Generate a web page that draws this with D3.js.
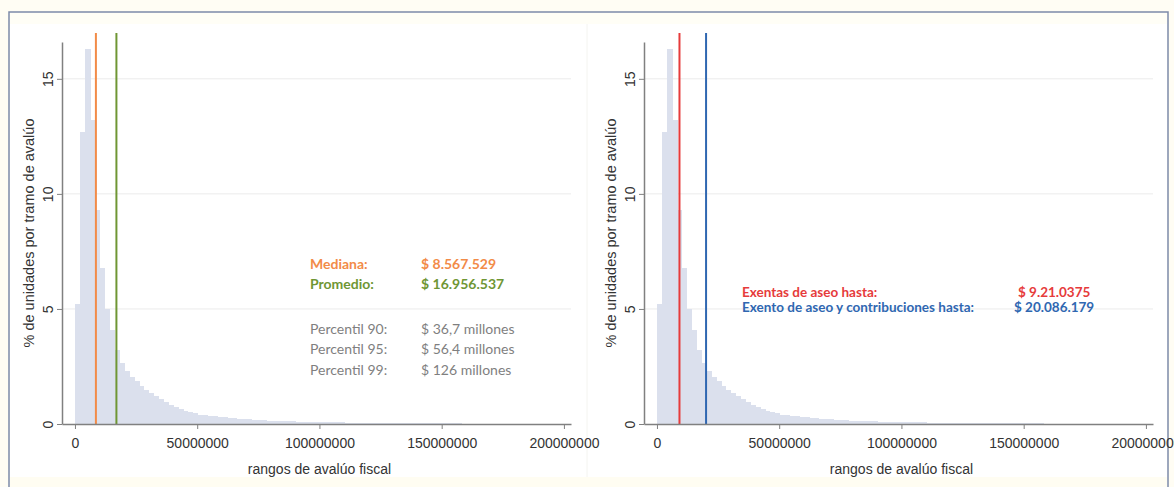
<!DOCTYPE html>
<html>
<head>
<meta charset="utf-8">
<script src="https://cdn.jsdelivr.net/npm/d3@7"></script>
<style>
body { margin: 0; background: #fffdf4; }
svg { display: block; }
</style>
</head>
<body>
<div id="chart-area"></div>
<script>
// histogram: % of units per 2M bin, starting at 0
var binStart = 0;
var binWidth = 2000000;
var pctUnidades = [
  5.2, 12.7, 16.3, 13.2, 9.3, 6.8, 5.0, 4.1, 3.2, 2.65,
  2.3, 2.05, 1.85, 1.65, 1.48, 1.35, 1.2, 1.07, 0.95, 0.83,
  0.74, 0.66, 0.58, 0.52, 0.46, 0.41, 0.38, 0.35, 0.33, 0.31,
  0.29, 0.27, 0.25, 0.23, 0.21, 0.2, 0.18, 0.17, 0.16, 0.15,
  0.14, 0.13, 0.12, 0.12, 0.11, 0.1, 0.1, 0.09, 0.09, 0.08,
  0.08, 0.08, 0.07, 0.07, 0.07, 0.06, 0.06, 0.06, 0.06, 0.05,
  0.05, 0.05, 0.05, 0.05, 0.04, 0.04, 0.04, 0.04, 0.04, 0.04,
  0.03, 0.03, 0.03, 0.03, 0.03, 0.03, 0.03, 0.03, 0.03, 0.02,
  0.02, 0.02, 0.02, 0.02, 0.02, 0.02, 0.02, 0.02, 0.02, 0.02,
  0.02, 0.02, 0.02, 0.02, 0.02, 0.02, 0.02, 0.02, 0.02, 0.02
];
var xTicks = [0, 50000000, 100000000, 150000000, 200000000];
var yTicks = [0, 5, 10, 15];
var yTitle = "% de unidades por tramo de avalúo";
var xTitle = "rangos de avalúo fiscal";

// left panel
var leftLineValues = [8567529, 16956537];
var leftLabels = ["Mediana:", "Promedio:", "Percentil 90:", "Percentil 95:", "Percentil 99:"];
var leftAmounts = ["$ 8.567.529", "$ 16.956.537", "$ 36,7 millones", "$ 56,4 millones", "$ 126 millones"];

// right panel
var rightLineValues = [9210375, 20086179];
var rightLabels = ["Exentas de aseo hasta:", "Exento de aseo y contribuciones hasta:"];
var rightAmounts = ["$ 9.21.0375", "$ 20.086.179"];

var width = 1174, height = 487;

var svg = d3.select("#chart-area").append("svg")
	.attr("width", width)
	.attr("height", height);

// frame
svg.append("rect").attr("x", 9).attr("y", 12).attr("width", 1159).attr("height", 480)
	.attr("fill", "#ffffff").attr("stroke", "#7d8aa8").attr("stroke-width", 1.5);
svg.append("rect").attr("x", 10).attr("y", 13).attr("width", 1157).attr("height", 11)
	.attr("fill", "#fffef6");
svg.append("rect").attr("x", 10).attr("y", 477).attr("width", 1157).attr("height", 10)
	.attr("fill", "#fffdf2");
svg.append("line").attr("x1", 587).attr("x2", 587).attr("y1", 24).attr("y2", 477)
	.attr("stroke", "#f4f4f0").attr("stroke-width", 1);

var bins = pctUnidades.map((d, i) => {
	return {x0: binStart + i * binWidth, x1: binStart + (i + 1) * binWidth, pct: d};
});

function drawPanel(left, lineValues, lineColors) {
	var g = svg.append("g").attr("transform", "translate(" + left + ",0)");

	var x = d3.scaleLinear()
		.domain([-5300000, 202900000])
		.range([62, 571]);
	var y = d3.scaleLinear()
		.domain([0, 16.6])
		.range([424, 42]);

	// gridlines
	g.selectAll(".grid").data(yTicks.filter(d => d > 0)).enter()
		.append("line")
		.attr("class", "grid")
		.attr("x1", x.range()[0]).attr("x2", x.range()[1])
		.attr("y1", d => y(d)).attr("y2", d => y(d))
		.attr("stroke", "#ebebeb").attr("stroke-width", 1);

	// bars
	g.selectAll(".bar").data(bins).enter()
		.append("rect")
		.attr("class", "bar")
		.attr("x", d => x(d.x0))
		.attr("width", d => x(d.x1) - x(d.x0) + 1)
		.attr("y", d => y(d.pct))
		.attr("height", d => y(0) - y(d.pct))
		.attr("fill", "#dbe0ed")
		.attr("shape-rendering", "crispEdges");

	// vertical reference lines
	g.selectAll(".vline").data(lineValues).enter()
		.append("line")
		.attr("class", "vline")
		.attr("x1", d => x(d)).attr("x2", d => x(d))
		.attr("y1", 33).attr("y2", y(0))
		.attr("stroke", (d, i) => lineColors[i])
		.attr("stroke-width", 2);

	var xAxis = d3.axisBottom(x)
		.tickValues(xTicks)
		.tickFormat(d3.format("d"))
		.tickSize(5)
		.tickSizeOuter(0);
	var xg = g.append("g")
		.attr("transform", "translate(0," + y(0) + ")")
		.call(xAxis);
	xg.select(".domain").attr("stroke", "#808080").attr("stroke-width", 1.5);
	xg.selectAll(".tick line").attr("stroke", "#808080");
	xg.selectAll("text")
		.attr("y", 14)
		.attr("font-family", "'Liberation Sans', Arial, sans-serif")
		.attr("font-size", "14px")
		.attr("fill", "#333");

	var yAxis = d3.axisLeft(y)
		.tickValues(yTicks)
		.tickSize(5)
		.tickSizeOuter(0);
	var yg = g.append("g")
		.attr("transform", "translate(" + x.range()[0] + ",0)")
		.call(yAxis);
	yg.select(".domain").attr("stroke", "#808080").attr("stroke-width", 1.5);
	yg.selectAll(".tick line").attr("stroke", "#808080");
	yg.selectAll("text")
		.attr("x", 0)
		.attr("y", -9)
		.attr("dy", 0)
		.attr("text-anchor", "middle")
		.attr("transform", "rotate(-90)")
		.attr("font-family", "'Liberation Sans', Arial, sans-serif")
		.attr("font-size", "14px")
		.attr("fill", "#333");

	g.append("text")
		.attr("transform", "translate(" + (x.range()[0] - 33) + "," + ((y(0) + y(16.6)) / 2) + ") rotate(-90)")
		.attr("dy", "0.35em")
		.attr("text-anchor", "middle")
		.attr("font-family", "'Liberation Sans', Arial, sans-serif")
		.attr("font-size", "14.5px")
		.attr("fill", "#333")
		.text(yTitle);

	g.append("text")
		.attr("x", (x(0) + x(200000000)) / 2)
		.attr("y", 474)
		.attr("text-anchor", "middle")
		.attr("font-family", "'Liberation Sans', Arial, sans-serif")
		.attr("font-size", "14px")
		.attr("fill", "#333")
		.text(xTitle);

	return g;
}

var gl = drawPanel(0, leftLineValues, ["#f28b48", "#6f9634"]);
var gr = drawPanel(582, rightLineValues, ["#e63b3b", "#2f67b1"]);

// left annotations
var leftColors = ["#f28b48", "#6f9634", "#7f7f7f", "#7f7f7f", "#7f7f7f"];
var leftRows = [269, 289, 334, 354, 375];
gl.selectAll(".lab").data(leftLabels).enter()
	.append("text")
	.attr("x", 310).attr("y", (d, i) => leftRows[i])
	.attr("font-family", "Lato, sans-serif")
	.attr("font-size", "14px")
	.attr("font-weight", (d, i) => i < 2 ? "bold" : "normal")
	.attr("fill", (d, i) => leftColors[i])
	.text(d => d);
gl.selectAll(".amt").data(leftAmounts).enter()
	.append("text")
	.attr("x", 421).attr("y", (d, i) => leftRows[i])
	.attr("font-family", "Lato, sans-serif")
	.attr("font-size", "14px")
	.attr("font-weight", (d, i) => i < 2 ? "bold" : "normal")
	.attr("fill", (d, i) => leftColors[i])
	.text(d => d);

// right annotations
var rightColors = ["#e63b3b", "#2f67b1"];
var rightRows = [297, 312];
gr.selectAll(".lab").data(rightLabels).enter()
	.append("text")
	.attr("x", 742 - 582).attr("y", (d, i) => rightRows[i])
	.attr("font-family", "Lato, sans-serif")
	.attr("font-size", "13.5px")
	.attr("font-weight", "bold")
	.attr("fill", (d, i) => rightColors[i])
	.text(d => d);
gr.selectAll(".amt").data(rightAmounts).enter()
	.append("text")
	.attr("x", (d, i) => (i == 0 ? 1018 : 1014) - 582).attr("y", (d, i) => rightRows[i])
	.attr("font-family", "Lato, sans-serif")
	.attr("font-size", "13.5px")
	.attr("font-weight", "bold")
	.attr("fill", (d, i) => rightColors[i])
	.text(d => d);
</script>
</body>
</html>
